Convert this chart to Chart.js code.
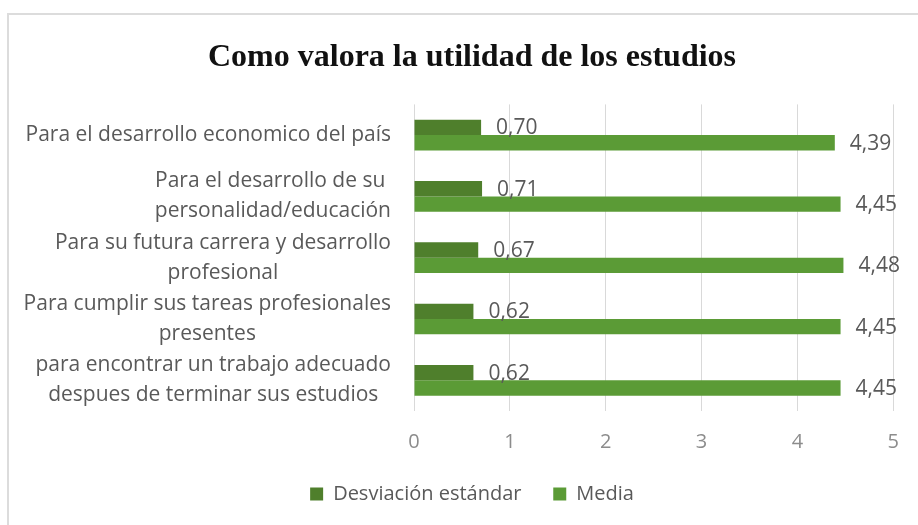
<!DOCTYPE html>
<html>
<head>
<meta charset="utf-8">
<script src="https://cdn.jsdelivr.net/npm/chart.js@4/dist/chart.umd.min.js"></script>
<style>
  html, body { margin: 0; padding: 0; background: #fff; overflow: hidden; }
  #wrap { position: relative; width: 918px; height: 525px; }
  #frame { position: absolute; left: 7px; top: 13px; width: 930px; height: 540px; border: 2px solid #dcdcdc; box-sizing: border-box; }
  canvas { position: absolute; left: 0; top: 0; }
</style>
</head>
<body>
<div id="wrap">
  <div id="frame"></div>
  <canvas id="chart" width="918" height="525"></canvas>
</div>
<script>
const categories = [
    'Para el desarrollo economico del país',
    ['Para el desarrollo de su ', 'personalidad/educación'],
    ['Para su futura carrera y desarrollo', 'profesional'],
    ['Para cumplir sus tareas profesionales', 'presentes'],
    ['para encontrar un trabajo adecuado', 'despues de terminar sus estudios']
];
const desviacion = [0.70, 0.71, 0.67, 0.62, 0.62];
const media = [4.39, 4.45, 4.48, 4.45, 4.45];
const xMin = 0, xMax = 5, xStep = 1;

const textGray = '#595959';
const labelFont = '"Open Sans", "Lato", sans-serif';

// category labels: block right-aligned, lines centred inside the block
const categoryLabels = {
    id: 'categoryLabels',
    afterDraw(chart) {
        const ctx = chart.ctx;
        const scale = chart.scales.y;
        const right = scale.right - 23;
        const lineGap = 30;
        ctx.save();
        ctx.font = '21px ' + labelFont;
        ctx.fillStyle = textGray;
        ctx.textAlign = 'center';
        ctx.textBaseline = 'middle';
        scale.ticks.forEach((t, i) => {
            const lines = Array.isArray(categories[i]) ? categories[i] : [categories[i]];
            const w = Math.max(...lines.map(l => ctx.measureText(l).width));
            const cx = right - w / 2;
            const cy = scale.getPixelForTick(i);
            lines.forEach((l, j) => {
                ctx.fillText(l, cx, cy + (j - (lines.length - 1) / 2) * lineGap);
            });
        });
        ctx.restore();
    }
};

// value labels just past the end of each bar, decimal comma
const valueLabels = {
    id: 'valueLabels',
    afterDatasetsDraw(chart) {
        const ctx = chart.ctx;
        ctx.save();
        ctx.font = '21px ' + labelFont;
        ctx.fillStyle = textGray;
        ctx.textAlign = 'left';
        ctx.textBaseline = 'middle';
        chart.data.datasets.forEach((ds, di) => {
            chart.getDatasetMeta(di).data.forEach((bar, i) => {
                const txt = ds.data[i].toFixed(2).replace('.', ',');
                ctx.fillText(txt, bar.x + 15, bar.y + 1);
            });
        });
        ctx.restore();
    }
};

new Chart(document.getElementById('chart'), {
    type: 'bar',
    data: {
        labels: categories,
        datasets: [
            { label: 'Desviación estándar', data: desviacion, backgroundColor: '#4f7f2c' },
            { label: 'Media', data: media, backgroundColor: '#5b9b36' }
        ]
    },
    options: {
        indexAxis: 'y',
        responsive: false,
        animation: false,
        layout: { padding: { left: 16, right: -10, top: 0, bottom: 11 } },
        categoryPercentage: 0.5,
        barPercentage: 1.0,
        scales: {
            x: {
                min: xMin, max: xMax,
                ticks: { stepSize: xStep, color: '#8c8c8c', font: { family: labelFont, size: 20 }, padding: 19 },
                grid: { color: '#d9d9d9', drawTicks: false },
                border: { display: false }
            },
            y: {
                ticks: { display: false },
                grid: { display: false },
                border: { display: false },
                afterFit(scale) { scale.width = 398; }
            }
        },
        plugins: {
            title: {
                display: true,
                text: 'Como valora la utilidad de los estudios',
                color: '#111',
                font: { family: '"Liberation Serif", "Times New Roman", serif', size: 32, weight: 'bold' },
                padding: { top: 39, bottom: 27 }
            },
            legend: {
                position: 'bottom',
                labels: {
                    color: textGray,
                    font: { family: labelFont, size: 20 },
                    boxWidth: 13, boxHeight: 13,
                    padding: 11,
                    // wider gap between the two entries
                    generateLabels(chart) {
                        const items = Chart.defaults.plugins.legend.labels.generateLabels(chart);
                        items[0].text += '    ';
                        return items;
                    }
                }
            },
            tooltip: { enabled: false }
        }
    },
    plugins: [categoryLabels, valueLabels]
});
</script>
</body>
</html>
